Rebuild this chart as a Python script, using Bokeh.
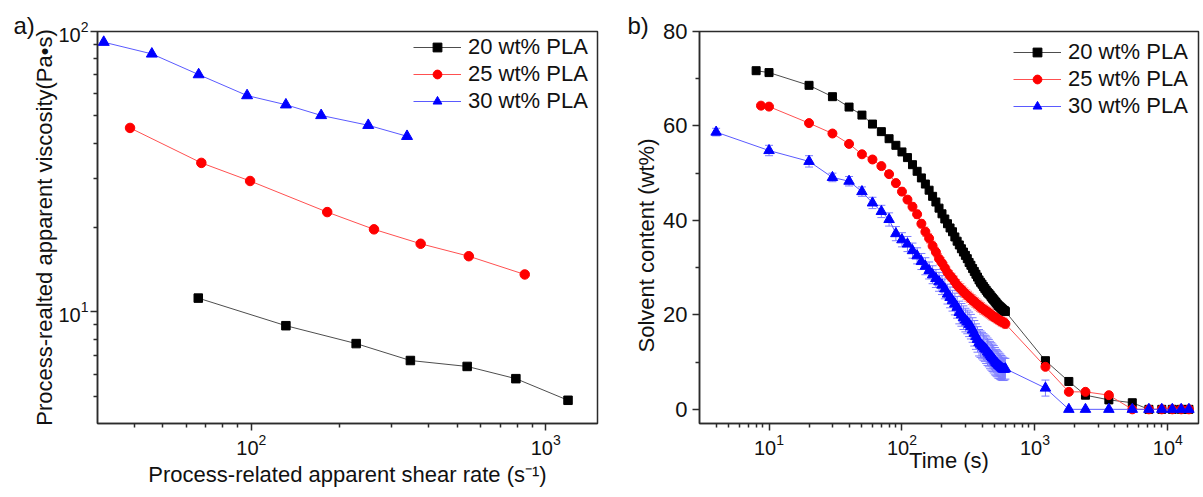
from bokeh.plotting import figure
from bokeh.models import (ColumnDataSource, FixedTicker, Legend, LegendItem,
                          Title, Whisker, TeeHead)
from bokeh.layouts import row
from bokeh.embed import file_html
from bokeh.resources import INLINE

# ---------------- data: panel a ----------------
SERIES = ["20 wt% PLA", "25 wt% PLA", "30 wt% PLA"]
shear_20 = [66, 131, 227, 347, 541, 792, 1191]
visc_20 = [11.2, 8.93, 7.71, 6.71, 6.39, 5.78, 4.84]
shear_25 = [38.7, 67.6, 99, 181, 261, 376, 548, 849]
visc_25 = [45.3, 34.0, 29.3, 22.7, 19.7, 17.5, 15.8, 13.6]
shear_30 = [31.5, 45.9, 66.2, 96.7, 131, 172.6, 249.5, 338]
visc_30 = [91.6, 83.2, 70.2, 59.1, 54.8, 50.2, 46.3, 42.3]

# ---------------- data: panel b ----------------
TIME_DENSE = [10, 20, 30, 40, 50, 60, 70, 80, 90, 100,
              110, 120, 130, 140, 150, 160, 170, 180, 190, 200,
              210, 220, 230, 240, 250, 260, 270, 280, 290, 300,
              310, 320, 330, 340, 350, 360, 370, 380, 390, 400,
              410, 420, 430, 440, 450, 460, 470, 480, 490, 500,
              510, 520, 530, 540, 550, 560, 570, 580, 590, 600]
TIME_TAIL = [1200, 1800, 2400, 3600, 5400, 7200, 9000, 10800, 12600, 14400]
time_20 = [8] + TIME_DENSE + TIME_TAIL
time_25 = [8.7] + TIME_DENSE + TIME_TAIL
time_30 = [4] + TIME_DENSE + TIME_TAIL

solv_20 = [71.7,
           71.3, 68.6, 66.2, 64.0, 62.3, 60.4, 58.8, 57.3, 55.9, 54.5,
           53.3, 51.8, 50.4, 49.0, 47.7, 46.4, 45.1, 43.9, 42.6, 41.4,
           40.3, 39.3, 38.4, 37.6, 36.5, 35.6, 34.8, 34.0, 33.3, 32.6,
           31.9, 31.1, 30.5, 29.8, 29.2, 28.6, 28.0, 27.4, 26.9, 26.5,
           26.0, 25.6, 25.2, 24.8, 24.5, 24.2, 23.8, 23.5, 23.2, 22.9,
           22.6, 22.3, 22.0, 21.8, 21.6, 21.4, 21.2, 21.0, 20.9, 20.7,
           10.3, 5.9, 3.0, 2.0, 1.4, 0.0, 0.0, 0.0, 0.0, 0.0]
err_20 = [0.5,
          0.5, 0.5, 0.5, 0.5, 0.5, 0.5, 0.5, 0.5, 0.5, 0.5,
          0.5, 0.5, 0.5, 0.5, 0.6, 0.6, 0.6, 0.6, 0.6, 0.6,
          0.6, 0.6, 0.6, 0.6, 0.6, 0.6, 0.6, 0.7, 0.7, 0.7,
          0.7, 0.7, 0.7, 0.7, 0.7, 0.7, 0.7, 0.7, 0.7, 0.7,
          0.7, 0.7, 0.7, 0.7, 0.7, 0.7, 0.7, 0.7, 0.7, 0.7,
          0.7, 0.7, 0.7, 0.7, 0.7, 0.7, 0.7, 0.7, 0.7, 0.7,
          0.6, 0.4, 0.3, 0.3, 0.2, 0.0, 0.0, 0.0, 0.0, 0.0]

solv_25 = [64.3,
           64.1, 60.6, 58.4, 56.2, 54.0, 52.9, 51.5, 49.8, 47.9, 46.1,
           44.4, 42.9, 41.3, 39.3, 37.6, 36.2, 34.6, 33.3, 31.9, 31.0,
           30.0, 29.0, 28.3, 27.7, 27.0, 26.3, 25.8, 25.4, 24.9, 24.5,
           24.1, 23.8, 23.4, 23.1, 22.8, 22.5, 22.2, 21.9, 21.7, 21.4,
           21.2, 21.0, 20.8, 20.6, 20.4, 20.2, 20.0, 19.8, 19.6, 19.5,
           19.3, 19.2, 19.0, 18.9, 18.7, 18.6, 18.5, 18.4, 18.3, 18.1,
           9.0, 3.7, 3.7, 3.0, 0.0, 0.0, 0.0, 0.0, 0.0, 0.0]
err_25 = [0.5,
          0.5, 0.6, 0.6, 0.6, 0.6, 0.7, 0.7, 0.7, 0.8, 0.8,
          0.8, 0.9, 0.9, 0.9, 1.0, 1.0, 1.0, 1.0, 1.1, 1.1,
          1.1, 1.1, 1.1, 1.1, 1.2, 1.2, 1.2, 1.2, 1.2, 1.2,
          1.2, 1.2, 1.2, 1.2, 1.2, 1.2, 1.2, 1.2, 1.2, 1.2,
          1.1, 1.1, 1.1, 1.1, 1.1, 1.1, 1.1, 1.0, 1.0, 1.0,
          1.0, 1.0, 1.0, 1.0, 1.0, 1.0, 1.0, 1.0, 1.0, 1.0,
          0.6, 0.5, 0.4, 0.4, 0.0, 0.0, 0.0, 0.0, 0.0, 0.0]

solv_30 = [58.7,
           54.8, 52.5, 49.1, 48.3, 46.1, 43.7, 41.9, 40.2, 37.2, 35.9,
           35.0, 33.6, 32.5, 31.3, 30.3, 29.4, 28.5, 27.7, 27.0, 26.3,
           25.5, 24.4, 23.7, 23.0, 22.3, 21.6, 20.5, 20.0, 19.4, 18.9,
           18.5, 18.0, 17.5, 16.8, 16.1, 15.4, 14.8, 14.1, 13.8, 13.5,
           13.2, 12.9, 12.6, 12.2, 11.9, 11.5, 11.2, 10.9, 10.6, 10.2,
           9.9, 9.7, 9.4, 9.2, 9.0, 8.8, 8.6, 8.5, 8.5, 8.6,
           4.5, 0.0, 0.0, 0.0, 0.0, 0.0, 0.0, 0.0, 0.0, 0.0]
err_30 = [0.8,
          1.1, 1.2, 0.9, 1.0, 1.0, 1.2, 1.3, 1.4, 1.5, 1.5,
          1.6, 1.6, 1.7, 1.7, 1.8, 1.8, 1.9, 1.9, 2.0, 2.0,
          2.1, 2.1, 2.2, 2.2, 2.3, 2.3, 2.4, 2.4, 2.5, 2.5,
          2.5, 2.6, 2.6, 2.6, 2.7, 2.7, 2.7, 2.8, 2.8, 2.8,
          2.8, 2.8, 2.9, 2.9, 2.9, 2.9, 2.9, 2.9, 2.9, 2.9,
          2.8, 2.8, 2.8, 2.7, 2.7, 2.6, 2.5, 2.4, 2.3, 2.2,
          1.7, 0.0, 0.0, 0.0, 0.0, 0.0, 0.0, 0.0, 0.0, 0.0]

# ---------------- tick values ----------------
A_X_MAJOR = [100, 1000]
A_X_MINOR = [40, 50, 60, 70, 80, 90, 200, 300, 400, 500, 600, 700, 800, 900]
A_Y_MAJOR = [10, 100]
A_Y_MINOR = [5, 6, 7, 8, 9, 20, 30, 40, 50, 60, 70, 80, 90]
B_X_MAJOR = [10, 100, 1000, 10000]
B_X_MINOR = [4, 5, 6, 7, 8, 9, 20, 30, 40, 50, 60, 70, 80, 90,
             200, 300, 400, 500, 600, 700, 800, 900,
             2000, 3000, 4000, 5000, 6000, 7000, 8000, 9000]
B_Y_MAJOR = [0, 20, 40, 60, 80]
B_Y_MINOR = [10, 30, 50, 70]

FONT = "Liberation Sans"
AX = "#2b2b2b"
TXT = "#111111"
MARK = ["#000000", "#ff0000", "#0000ff"]
LINE = ["#4d4d4d", "#ff5050", "#5a5aff"]
ERRC = ["#555555", "#ff8080", "#7c7cff"]
CAP = [6, 6, 8]
SHAPES = ["square", "circle", "triangle"]


def style(p, xlab_size, ylab_size):
    p.grid.visible = False
    p.background_fill_color = "white"
    p.border_fill_color = "white"
    p.outline_line_color = AX
    p.outline_line_width = 1.5
    for ax in p.axis:
        ax.axis_line_color = AX
        ax.axis_line_width = 1.5
        ax.major_tick_line_color = AX
        ax.major_tick_line_width = 1.5
        ax.minor_tick_line_color = AX
        ax.minor_tick_line_width = 1.5
        ax.major_tick_in = 0
        ax.major_tick_out = 7
        ax.minor_tick_in = 0
        ax.minor_tick_out = 4
        ax.major_label_text_font = FONT
        ax.major_label_text_color = TXT
        ax.axis_label_text_font = FONT
        ax.axis_label_text_font_style = "normal"
        ax.axis_label_text_color = TXT
        ax.axis_label_text_font_size = "22px"
    p.xaxis.major_label_text_font_size = xlab_size
    p.yaxis.major_label_text_font_size = ylab_size


def make_legend(p, items, margin, label_width):
    leg = Legend(items=items, location="top_right", margin=margin, padding=0,
                 spacing=1, glyph_width=48, glyph_height=22, label_height=22,
                 label_width=label_width, label_standoff=7,
                 label_text_font=FONT, label_text_font_size="22px",
                 label_text_color=TXT, border_line_color=None,
                 background_fill_alpha=0)
    p.add_layout(leg)


def panel_tag(p, text, offset):
    p.add_layout(Title(text=text, align="left", offset=offset, standoff=-14,
                       vertical_align="bottom", text_font=FONT,
                       text_font_size="24px", text_font_style="normal",
                       text_color=TXT), "above")


# ---------------- panel a ----------------
p1 = figure(width=615, height=496, x_axis_type="log", y_axis_type="log",
            x_range=(30, 1500), y_range=(4, 100),
            output_backend="svg", toolbar_location=None,
            min_border_left=97, min_border_right=18,
            min_border_top=31, min_border_bottom=73)
style(p1, "20px", "20px")
p1.xaxis.ticker = FixedTicker(ticks=A_X_MAJOR, minor_ticks=A_X_MINOR)
p1.yaxis.ticker = FixedTicker(ticks=A_Y_MAJOR, minor_ticks=A_Y_MINOR)
p1.xaxis.axis_label = "Process-related apparent shear rate (s\u207b\u00b9)"
p1.yaxis.axis_label = "Process-realted apparent viscosity(Pa\u2022s)"
p1.xaxis.major_label_standoff = 3
p1.yaxis.major_label_standoff = 2
p1.xaxis.axis_label_standoff = 4
p1.yaxis.axis_label_standoff = -2

items_a = []
for i, (xs, ys) in enumerate([(shear_20, visc_20), (shear_25, visc_25),
                              (shear_30, visc_30)]):
    src = ColumnDataSource(dict(x=xs, y=ys))
    ln = p1.line("x", "y", source=src, line_color=LINE[i], line_width=1)
    sz = [8.5, 9.5, 11][i]
    sc = p1.scatter("x", "y", source=src, marker=SHAPES[i], size=sz,
                    fill_color=MARK[i], line_color=MARK[i])
    items_a.append(LegendItem(label=SERIES[i], renderers=[ln, sc]))
make_legend(p1, items_a, 3, 126)
panel_tag(p1, "a)", -84)

# ---------------- panel b ----------------
p2 = figure(width=587, height=496, x_axis_type="log",
            x_range=(3, 17000), y_range=(-3, 80),
            output_backend="svg", toolbar_location=None,
            min_border_left=84, min_border_right=4,
            min_border_top=31, min_border_bottom=73)
style(p2, "20px", "22px")
p2.xaxis.ticker = FixedTicker(ticks=B_X_MAJOR, minor_ticks=B_X_MINOR)
p2.yaxis.ticker = FixedTicker(ticks=B_Y_MAJOR, minor_ticks=B_Y_MINOR)
p2.xaxis.axis_label = "Time (s)"
p2.xaxis.major_label_standoff = 3
p2.yaxis.major_label_standoff = 5
p2.xaxis.axis_label_standoff = -10
p2.add_layout(Title(text="Solvent content (wt%)", align="left", offset=71,
                    standoff=4, text_font=FONT, text_font_size="22px",
                    text_font_style="normal", text_color=TXT), "left")

items_b = []
for i, (ts, vs, es) in enumerate([(time_20, solv_20, err_20),
                                  (time_25, solv_25, err_25),
                                  (time_30, solv_30, err_30)]):
    src = ColumnDataSource(dict(t=ts, v=vs,
                                lo=[a - b for a, b in zip(vs, es)],
                                hi=[a + b for a, b in zip(vs, es)]))
    wk = Whisker(base="t", upper="hi", lower="lo", source=src,
                 line_color=ERRC[i], line_width=1,
                 upper_head=TeeHead(size=CAP[i], line_color=ERRC[i], line_width=1),
                 lower_head=TeeHead(size=CAP[i], line_color=ERRC[i], line_width=1))
    p2.add_layout(wk)
    ln = p2.line("t", "v", source=src, line_color=LINE[i], line_width=1)
    sz = [8, 9, 10.5][i]
    sc = p2.scatter("t", "v", source=src, marker=SHAPES[i], size=sz,
                    fill_color=MARK[i], line_color=MARK[i])
    items_b.append(LegendItem(label=SERIES[i], renderers=[ln, sc]))
make_legend(p2, items_b, 8, 122)
panel_tag(p2, "b)", -72)

layout = row(p1, p2)
open("out.html", "w").write(file_html(layout, INLINE))
